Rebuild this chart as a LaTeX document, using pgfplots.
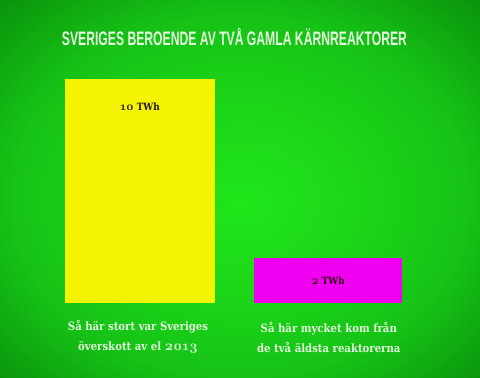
\documentclass[border=0pt]{standalone}
\usepackage{pgfplots}
\pgfplotsset{compat=1.18}
\usepackage{fontspec}
\setmainfont{DejaVu Serif}[FakeStretch=0.88]
\newfontfamily\titlefont{Liberation Sans}[BoldFont=* Bold]
\newfontfamily\numfont{Latin Modern Roman}[Numbers=OldStyle]
\definecolor{bga}{RGB}{32,230,26}
\definecolor{bgb}{RGB}{28,214,24}
\definecolor{bgc}{RGB}{22,194,22}
\definecolor{bgd}{RGB}{10,150,12}
\definecolor{bge}{RGB}{8,118,10}
\pgfdeclareradialshading{bgshade}{\pgfpoint{0bp}{-2bp}}{color(0bp)=(bga); color(12bp)=(bgb); color(24bp)=(bgc); color(35bp)=(bgd); color(50bp)=(bge)}
\definecolor{ybar}{RGB}{244,244,0}
\definecolor{mbar}{RGB}{240,0,240}
\definecolor{txt}{RGB}{228,245,222}
\begin{document}
\begin{tikzpicture}
\begin{axis}[
  scale only axis, width=480pt, height=378pt,
  xmin=0, xmax=480, ymin=-3.3482, ymax=13.5268,
  axis lines=none, clip=false,
  axis background/.style={shade, shading=bgshade},
  ybar, bar width=150,
]
\addplot[fill=ybar, draw=none, bar shift=0,
  nodes near coords={{\numfont\bfseries\fontsize{12}{12}\selectfont 10} TWh},
  every node near coord/.append style={anchor=center, yshift=-28pt, font=\bfseries\fontsize{10}{12}\selectfont, text=black!85!brown}]
  coordinates {(140,10)};
\addplot[fill=mbar, draw=none, bar shift=0, bar width=148,
  nodes near coords={{\numfont\bfseries\fontsize{12}{12}\selectfont 2} TWh},
  every node near coord/.append style={anchor=center, yshift=-23pt, font=\bfseries\fontsize{10}{12}\selectfont, text=black!75!purple}]
  coordinates {(328,2)};
\node[text=txt, font=\titlefont\bfseries\fontsize{19.5}{20}\selectfont] at (rel axis cs:0.4885,0.902)
  {\resizebox{345pt}{\height}{SVERIGES BEROENDE AV TVÅ GAMLA KÄRNREAKTORER}};
\node[text=txt, align=center, font=\bfseries\fontsize{11.5}{20}\selectfont] at (rel axis cs:0.2875,0.1085)
  {Så här stort var Sveriges\\överskott av el {\numfont\bfseries\fontsize{14}{20}\selectfont 2013}};
\node[text=txt, align=center, font=\bfseries\fontsize{11.5}{20}\selectfont] at (rel axis cs:0.685,0.1085)
  {Så här mycket kom från\\de två äldsta reaktorerna};
\end{axis}
\end{tikzpicture}
\end{document}
